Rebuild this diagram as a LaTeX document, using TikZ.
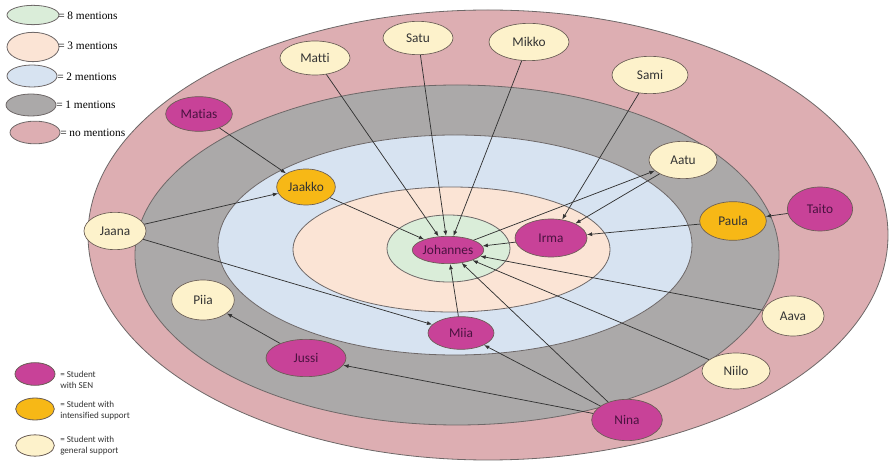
\documentclass[tikz,border=0pt]{standalone}
\usepackage{fontspec}
\setmainfont[Ligatures={NoCommon}]{Carlito}
\newfontfamily\serifleg{Liberation Serif}
\usetikzlibrary{shapes.geometric,arrows.meta}
\definecolor{pinkc}{HTML}{DDAEB2}
\definecolor{grayc}{HTML}{ABA9A9}
\definecolor{bluec}{HTML}{D7E3F1}
\definecolor{peachc}{HTML}{FBE4D5}
\definecolor{greenc}{HTML}{DAEDD9}
\definecolor{senc}{HTML}{C84298}
\definecolor{intc}{HTML}{F7B816}
\definecolor{genc}{HTML}{FDF2CB}
\definecolor{sentext}{HTML}{4A1240}
\definecolor{darktext}{HTML}{333333}
\definecolor{nodeborder}{HTML}{6A5D55}
\definecolor{ringborder}{HTML}{6E6868}
\definecolor{linec}{HTML}{333333}
\begin{document}
\begin{tikzpicture}[x=0.75pt,y=-0.75pt,
  stud/.style={ellipse, draw=nodeborder, line width=0.5pt, inner sep=0pt, font=\fontsize{10}{12}\selectfont},
  sen/.style={stud, fill=senc, text=sentext},
  intf/.style={stud, fill=intc, text=darktext},
  gen/.style={stud, fill=genc, text=darktext},
  link/.style={draw=linec, line width=0.55pt, -{Latex[length=4pt,width=3pt]}},
  ring/.style={draw=ringborder, line width=0.6pt},
  legshape/.style={ellipse, draw=ringborder, line width=0.6pt, inner sep=0pt},
  legtext/.style={anchor=west, inner sep=0pt, font=\serifleg\fontsize{8.5}{10}\selectfont, text=black},
  legtexttwo/.style={anchor=west, align=left, inner sep=0pt, font=\fontsize{6.8}{8.3}\selectfont, text=darktext}
]
\useasboundingbox (0,0) rectangle (889,466);

% concentric rings
\filldraw[ring, fill=pinkc]  (488,235)   ellipse [x radius=400, y radius=225];
\filldraw[ring, fill=grayc]  (457,255)   ellipse [x radius=322, y radius=170];
\filldraw[ring, fill=bluec]  (455,245)   ellipse [x radius=237, y radius=110];
\filldraw[ring, fill=peachc] (451.5,249.5) ellipse [x radius=158.5, y radius=62.5];
\filldraw[ring, fill=greenc] (448.5,248.5) ellipse [x radius=61.5, y radius=33.5];

% legend (rings)
\node[legshape, fill=greenc, minimum width=39pt, minimum height=14.5pt] (lg1) at (33,15) {};
\node[legshape, fill=peachc, minimum width=39pt, minimum height=22pt] (lg2) at (33,47) {};
\node[legshape, fill=bluec, minimum width=37.5pt, minimum height=16.5pt] (lg3) at (32,76) {};
\node[legshape, fill=grayc, minimum width=37.5pt, minimum height=16.5pt] (lg4) at (31,105) {};
\node[legshape, fill=pinkc, minimum width=37.5pt, minimum height=17pt] (lg5) at (35,132.5) {};
\node[legtext] (lt1) at (58,16) {= 8 mentions};
\node[legtext] (lt2) at (58,46) {= 3 mentions};
\node[legtext] (lt3) at (57,77) {= 2 mentions};
\node[legtext] (lt4) at (56,105) {= 1 mentions};
\node[legtext] (lt5) at (60,133) {= no mentions};

% legend (students)
\node[legshape, draw=nodeborder, fill=senc, minimum width=30pt, minimum height=17pt] (ls1) at (35,374) {};
\node[legshape, draw=nodeborder, fill=intc, minimum width=29pt, minimum height=16.5pt] (ls2) at (35,409) {};
\node[legshape, draw=nodeborder, fill=genc, minimum width=29pt, minimum height=16pt] (ls3) at (35,445.5) {};
\node[legtexttwo] (lu1) at (60,380) {= Student\\with SEN};
\node[legtexttwo] (lu2) at (60,410.5) {= Student with\\intensified support};
\node[legtexttwo] (lu3) at (60,445.5) {= Student with\\general support};

% students
\node[sen,  minimum width=42pt,   minimum height=20.5pt] (johannes) at (448,250) {Johannes};
\node[sen,  minimum width=54pt,   minimum height=28.5pt] (irma)     at (551,238) {Irma};
\node[gen,  minimum width=51pt,   minimum height=28pt]   (aatu)     at (683,160) {Aatu};
\node[gen,  minimum width=57pt,   minimum height=28pt]   (sami)     at (650,75)  {Sami};
\node[intf, minimum width=50pt,   minimum height=29pt]   (paula)    at (733,221) {Paula};
\node[sen,  minimum width=49pt,   minimum height=33pt]   (taito)    at (820,209) {Taito};
\node[sen,  minimum width=50pt,   minimum height=26pt]   (matias)   at (199,114) {Matias};
\node[intf, minimum width=44pt,   minimum height=27pt]   (jaakko)   at (306,187) {Jaakko};
\node[gen,  minimum width=46.5pt, minimum height=28pt]   (jaana)    at (115,231) {Jaana};
\node[gen,  minimum width=47pt,   minimum height=30pt]   (piia)     at (203,300) {Piia};
\node[sen,  minimum width=60pt,   minimum height=28pt]   (jussi)    at (306,358) {Jussi};
\node[sen,  minimum width=49.5pt, minimum height=24.5pt] (miia)     at (461,333) {Miia};
\node[gen,  minimum width=52.5pt, minimum height=25.5pt] (matti)    at (315,58)  {Matti};
\node[gen,  minimum width=52.5pt, minimum height=25pt]   (satu)     at (418,38)  {Satu};
\node[gen,  minimum width=60pt,   minimum height=28pt]   (mikko)    at (529,42)  {Mikko};
\node[gen,  minimum width=46.5pt, minimum height=30pt]   (aava)     at (793,316) {Aava};
\node[gen,  minimum width=51pt,   minimum height=27pt]   (niilo)    at (736,371) {Niilo};
\node[sen,  minimum width=53pt,   minimum height=31pt]   (nina)     at (627,420) {Nina};

% mentions
\draw[link] (matias) -- (jaakko);
\draw[link] (jaana) -- (jaakko);
\draw[link] (jaana) -- (miia);
\draw[link] (jaakko) -- (johannes);
\draw[link] (matti) -- (johannes);
\draw[link] (satu) -- (johannes);
\draw[link] (mikko) -- (johannes);
\draw[link] (sami) -- (irma);
\draw[link] (aatu) -- (irma);
\draw[link] (johannes) -- (aatu);
\draw[link] (paula) -- (irma);
\draw[link] (taito) -- (paula);
\draw[link] (irma) -- (johannes);
\draw[link] (aava) -- (johannes);
\draw[link] (niilo) -- (johannes);
\draw[link] (nina) -- (johannes);
\draw[link] (miia) -- (johannes);
\draw[link] (nina) -- (miia);
\draw[link] (nina) -- (jussi);
\draw[link] (jussi) -- (piia);
\end{tikzpicture}
\end{document}
